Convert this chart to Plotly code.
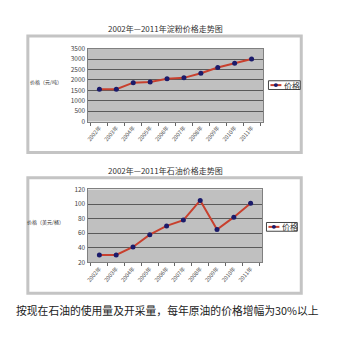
import plotly.graph_objects as go

years = ["2002年", "2003年", "2004年", "2005年", "2006年", "2007年", "2008年", "2009年", "2010年", "2011年"]
starch_price = [1550, 1550, 1870, 1900, 2060, 2100, 2320, 2600, 2800, 3010]
oil_price = [30, 30, 41, 58, 70, 78, 105, 65, 82, 101]
title1 = "2002年—2011年淀粉价格走势图"
title2 = "2002年—2011年石油价格走势图"
ytitle1 = "价格（元/吨）"
ytitle2 = "价格（美元/桶）"
series_name = "价格"
caption = "按现在石油的使用量及开采量，每年原油的价格增幅为30%以上"

W, H = 347, 343
FONT = "Noto Sans CJK SC"
LINE = "#c8402e"
MARK = "#1b1b6b"

def px(x):
    return x / W

def py(y):
    return 1 - y / H

fig = go.Figure()
fig.add_trace(go.Scatter(x=years, y=starch_price, mode="lines+markers", name=series_name,
                         line=dict(color=LINE, width=2), marker=dict(color=MARK, size=5),
                         xaxis="x", yaxis="y"))
fig.add_trace(go.Scatter(x=years, y=oil_price, mode="lines+markers", name=series_name,
                         line=dict(color=LINE, width=2), marker=dict(color=MARK, size=5),
                         xaxis="x2", yaxis="y2"))

axis_common = dict(showline=True, linecolor="#808080", linewidth=1, mirror=True,
                   tickfont=dict(size=6.5, color="#444", family=FONT))
xcommon = dict(axis_common, type="category", showgrid=False, tickangle=-50,
               ticks="outside", tickson="boundaries", ticklen=3, tickcolor="#666",
               tickfont=dict(size=5.5, color="#555", family=FONT))
ycommon = dict(axis_common, showgrid=True, gridcolor="#5a5a5a", gridwidth=1, zeroline=False,
               ticks="")

fig.update_layout(
    width=W, height=H, margin=dict(l=0, r=0, t=0, b=0),
    paper_bgcolor="white", plot_bgcolor="#c0c0c0",
    font=dict(family=FONT),
    xaxis=dict(xcommon, domain=[px(86), px(263)], anchor="y"),
    yaxis=dict(ycommon, domain=[py(119), py(44)], range=[0, 3500], dtick=500, anchor="x"),
    xaxis2=dict(xcommon, domain=[px(86), px(262)], anchor="y2"),
    yaxis2=dict(ycommon, domain=[py(264), py(189)], range=[20, 120], dtick=20, anchor="x2"),
    showlegend=False,
)

shapes = []
for (x0, y0, x1, y1) in [(26, 31, 301, 151), (26, 177, 301, 296)]:
    shapes.append(dict(type="rect", xref="paper", yref="paper",
                       x0=px(x0), x1=px(x1), y0=py(y0), y1=py(y1),
                       line=dict(color="#c4c4c4", width=3), fillcolor="rgba(0,0,0,0)",
                       layer="below"))

# custom legend boxes
legend_boxes = [(268, 77, 300, 86), (266, 223, 297, 232)]
ann = []
for (x0, y0, x1, y1) in legend_boxes:
    yc = (y0 + y1) / 2
    shapes.append(dict(type="rect", xref="paper", yref="paper",
                       x0=px(x0), x1=px(x1), y0=py(y0), y1=py(y1),
                       line=dict(color="#444", width=1), fillcolor="white"))
    shapes.append(dict(type="line", xref="paper", yref="paper",
                       x0=px(x0 + 2), x1=px(x0 + 13), y0=py(yc), y1=py(yc),
                       line=dict(color=LINE, width=2)))
    shapes.append(dict(type="circle", xref="paper", yref="paper",
                       x0=px(x0 + 5.5), x1=px(x0 + 9.5), y0=py(yc - 2), y1=py(yc + 2),
                       line=dict(color=MARK, width=0), fillcolor=MARK))
    ann.append(dict(text=series_name, x=px(x0 + 14), y=py(yc), xanchor="left",
                    font=dict(size=8, color="#333")))
fig.update_layout(shapes=shapes)

ann += [
    dict(text=title1, x=px(164), y=py(23), font=dict(size=8, color="#333")),
    dict(text=title2, x=px(164), y=py(169), font=dict(size=8, color="#333")),
    dict(text=ytitle1, x=px(44), y=py(78), font=dict(size=5, color="#333")),
    dict(text=ytitle2, x=px(44), y=py(223), font=dict(size=5, color="#333")),
    dict(text=caption, x=px(12), y=py(313), xanchor="left", font=dict(size=10.8, color="#222")),
]
for a in ann:
    a.update(xref="paper", yref="paper", showarrow=False, yanchor="middle")
    a.setdefault("xanchor", "center")
    a["font"]["family"] = FONT
fig.update_layout(annotations=ann)

fig.write_html("out.html")
